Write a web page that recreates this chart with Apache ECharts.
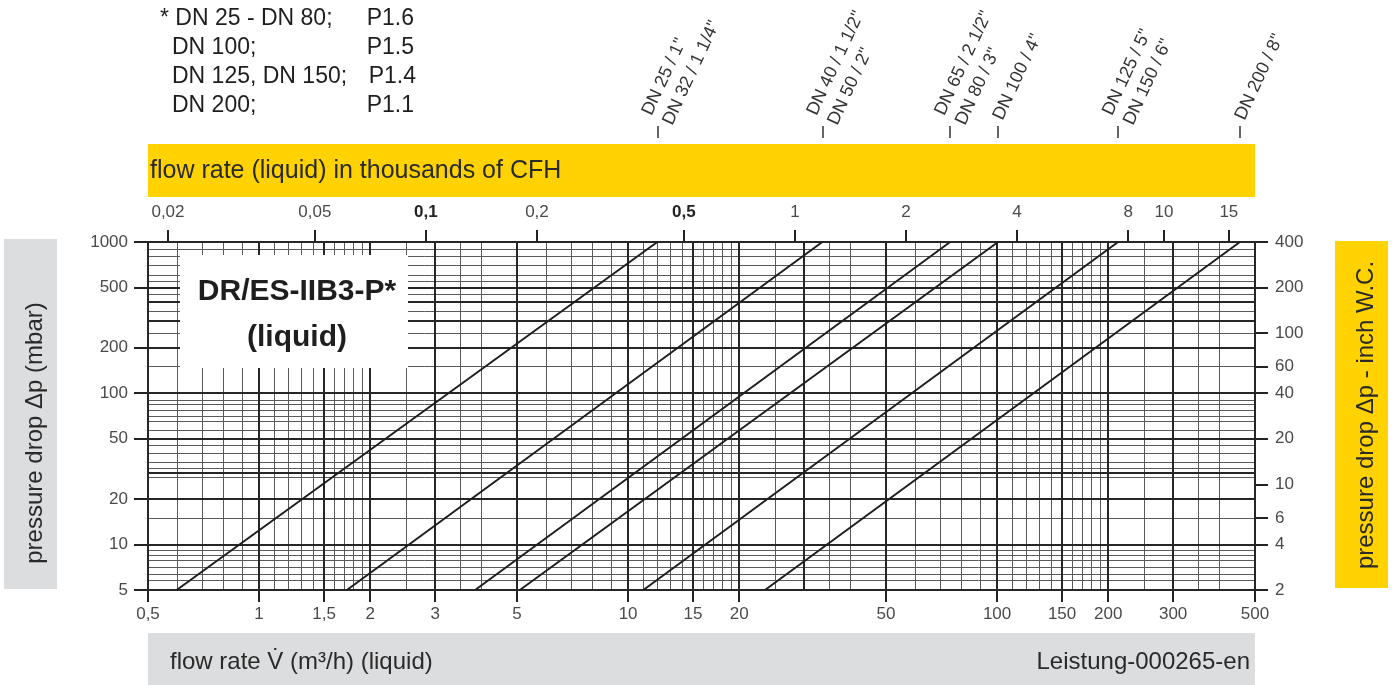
<!DOCTYPE html>
<html><head><meta charset="utf-8">
<script src="https://cdn.jsdelivr.net/npm/echarts@6/dist/echarts.min.js"></script>
<style>html,body{margin:0;padding:0;background:#fff}#c{width:1394px;height:685px}</style>
</head><body><div id="c"></div>
<script>
// ---- data ----
const sizeLabels = [
  ['DN 25 / 1"', 'DN 32 / 1 1/4"'],
  ['DN 40 / 1 1/2"', 'DN 50 / 2"'],
  ['DN 65 / 2 1/2"', 'DN 80 / 3"'],
  ['DN 100 / 4"'],
  ['DN 125 / 5"', 'DN 150 / 6"'],
  ['DN 200 / 8"']
];
const flowAt5 = [0.598, 1.73, 3.85, 5.09, 11.0, 23.5];       // m3/h at 5 mbar
const flowAt1000 = [12.0, 33.6, 74.6, 100.6, 212.7, 455];    // m3/h at 1000 mbar
const dpLow = 5, dpHigh = 1000;
const xTicks = [0.5, 1, 1.5, 2, 3, 5, 10, 15, 20, 50, 100, 150, 200, 300, 500];
const yTicks = [5, 10, 20, 50, 100, 200, 500, 1000];
const cfhTicks = [0.02, 0.05, 0.1, 0.2, 0.5, 1, 2, 4, 8, 10, 15];
const cfhBold = [0.1, 0.5];
const wcTicks = [2, 4, 6, 10, 20, 40, 60, 100, 200, 400];
const vGridMajor = [0.5, 1, 1.5, 2, 3, 5, 10, 15, 20, 30, 50, 100, 150, 200, 300, 500];
const vGridMinor = [0.6, 0.7, 0.8, 0.9, 1.1, 1.2, 1.3, 1.4, 1.6, 1.7, 1.8, 1.9, 2.5, 3.5, 4, 6, 7, 8, 9,
  11, 12, 13, 14, 16, 17, 18, 19, 25, 35, 40, 60, 70, 80, 90,
  110, 120, 130, 140, 160, 170, 180, 190, 250, 350, 400];
const hGridMajor = [5, 10, 20, 30, 50, 100, 200, 300, 400, 500, 1000];
const hGridMinor = [5.8, 6.4, 7.1, 7.9, 8.5, 9.2, 15, 28, 32, 35, 40, 45, 57, 65, 70, 77, 84, 90,
  150, 250, 350, 450, 550, 600, 700, 800, 900];
const M3H_TO_KCFH = 0.0353147;
const MBAR_TO_INWC = 0.4;

// ---- chart ----
const FONT = '"Liberation Sans", Arial, sans-serif';
const fmt = v => String(Number(Number(v).toPrecision(6))).replace('.', ',');
const near = (a, b) => Math.abs(Math.log10(a) - Math.log10(b)) < 0.005;

const chart = echarts.init(document.getElementById('c'), null, {renderer: 'canvas'});

const lineSeries = flowAt5.map((f, i) => ({
  type: 'line', name: sizeLabels[i].join(', '),
  xAxisIndex: 0, yAxisIndex: 0, z: 5,
  symbol: 'none', silent: true,
  lineStyle: {color: '#1e1e1e', width: 2},
  data: [[f, dpLow], [flowAt1000[i], dpHigh]]
}));

function gridSeries(xs, ys, color, width, z) {
  return {
    type: 'line', xAxisIndex: 0, yAxisIndex: 0, data: [], z: z, silent: true,
    markLine: {
      silent: true, symbol: ['none', 'none'], animation: false,
      label: {show: false},
      lineStyle: {color: color, width: width, type: 'solid'},
      emphasis: {disabled: true},
      data: xs.map(v => ({xAxis: v})).concat(ys.map(v => ({yAxis: v})))
    }
  };
}

const tickLabel = {fontFamily: FONT, fontSize: 17, color: '#4a4a4a'};

const option = {
  animation: false,
  backgroundColor: '#fff',
  grid: {left: 148, right: 139, top: 242, bottom: 95, containLabel: false},
  xAxis: [
    {
      type: 'log', logBase: 10, min: 0.5, max: 500, position: 'bottom',
      axisLine: {show: true, lineStyle: {color: '#222', width: 2}},
      axisTick: {show: true, customValues: xTicks, length: 12, lineStyle: {color: '#222', width: 2}},
      axisLabel: Object.assign({customValues: xTicks, margin: 16, formatter: v => fmt(v)}, tickLabel),
      splitLine: {show: false}, minorTick: {show: false}
    },
    {
      type: 'log', logBase: 10, min: 0.5 * M3H_TO_KCFH, max: 500 * M3H_TO_KCFH, position: 'top',
      axisLine: {show: false},
      axisTick: {show: true, customValues: cfhTicks, length: 12, lineStyle: {color: '#222', width: 2}},
      axisLabel: Object.assign({
        customValues: cfhTicks, margin: 21,
        formatter: v => cfhBold.some(b => near(b, v)) ? '{b|' + fmt(v) + '}' : fmt(v),
        rich: {b: {fontFamily: FONT, fontSize: 17, fontWeight: 'bold', color: '#222'}}
      }, tickLabel),
      splitLine: {show: false}
    },
    {
      type: 'log', logBase: 10, min: 0.5, max: 500, position: 'top', offset: 104,
      axisLine: {show: false},
      axisTick: {show: true, customValues: flowAt1000, length: 12, lineStyle: {color: '#333', width: 1.5}},
      axisLabel: {
        customValues: flowAt1000, rotate: -65, margin: 19,
        fontFamily: FONT, fontSize: 18, color: '#333', lineHeight: 23,
        formatter: v => {
          const i = flowAt1000.findIndex(f => near(f, v));
          return i >= 0 ? sizeLabels[i].join('\n') : '';
        }
      },
      splitLine: {show: false}
    }
  ],
  yAxis: [
    {
      type: 'log', logBase: 10, min: 5, max: 1000, position: 'left',
      axisLine: {show: true, lineStyle: {color: '#222', width: 2}},
      axisTick: {show: true, customValues: yTicks, length: 14, lineStyle: {color: '#222', width: 2}},
      axisLabel: Object.assign({customValues: yTicks, margin: 20, formatter: v => fmt(v)}, tickLabel),
      splitLine: {show: false}
    },
    {
      type: 'log', logBase: 10, min: dpLow * MBAR_TO_INWC, max: dpHigh * MBAR_TO_INWC, position: 'right',
      axisLine: {show: true, lineStyle: {color: '#222', width: 2}},
      axisTick: {show: true, customValues: wcTicks, length: 13, lineStyle: {color: '#222', width: 2}},
      axisLabel: Object.assign({customValues: wcTicks, margin: 20, formatter: v => fmt(v)}, tickLabel),
      splitLine: {show: false}
    }
  ],
  graphic: [
    // top band
    {type: 'rect', z: 100, shape: {x: 148, y: 144, width: 1107, height: 53}, style: {fill: '#FFD200'}},
    {type: 'text', z: 101, x: 150, y: 171, style: {text: 'flow rate (liquid) in thousands of CFH', font: '25px ' + FONT, fill: '#2a2a2a', verticalAlign: 'middle'}},
    // bottom band
    {type: 'rect', z: 100, shape: {x: 148, y: 633, width: 1107, height: 52}, style: {fill: '#DCDDDF'}},
    {type: 'text', z: 101, x: 170, y: 662, style: {text: 'flow rate V\u0307 (m³/h) (liquid)', font: '24px ' + FONT, fill: '#2a2a2a', verticalAlign: 'middle'}},
    {type: 'text', z: 101, x: 1250, y: 662, style: {text: 'Leistung-000265-en', font: '24px ' + FONT, fill: '#2a2a2a', align: 'right', verticalAlign: 'middle'}},
    // left band
    {type: 'rect', z: 100, shape: {x: 4, y: 239, width: 53, height: 350}, style: {fill: '#DCDDDF'}},
    {type: 'text', z: 101, x: 35, y: 433, rotation: Math.PI / 2, style: {text: 'pressure drop \u0394p (mbar)', font: '24px ' + FONT, fill: '#2a2a2a', align: 'center', verticalAlign: 'middle'}},
    // right band
    {type: 'rect', z: 100, shape: {x: 1335, y: 241, width: 53, height: 347}, style: {fill: '#FFD200'}},
    {type: 'text', z: 101, x: 1366, y: 415, rotation: Math.PI / 2, style: {text: 'pressure drop \u0394p - inch W.C.', font: '24px ' + FONT, fill: '#2a2a2a', align: 'center', verticalAlign: 'middle'}},
    // notes
    {type: 'text', z: 101, x: 160, y: 19, style: {text: '* DN 25 - DN 80;', font: '23px ' + FONT, fill: '#1e1e1e', verticalAlign: 'middle'}},
    {type: 'text', z: 101, x: 172, y: 48, style: {text: 'DN 100;', font: '23px ' + FONT, fill: '#1e1e1e', verticalAlign: 'middle'}},
    {type: 'text', z: 101, x: 172, y: 77, style: {text: 'DN 125, DN 150;', font: '23px ' + FONT, fill: '#1e1e1e', verticalAlign: 'middle'}},
    {type: 'text', z: 101, x: 172, y: 106, style: {text: 'DN 200;', font: '23px ' + FONT, fill: '#1e1e1e', verticalAlign: 'middle'}},
    {type: 'text', z: 101, x: 414, y: 19, style: {text: 'P1.6', font: '23px ' + FONT, fill: '#1e1e1e', align: 'right', verticalAlign: 'middle'}},
    {type: 'text', z: 101, x: 414, y: 48, style: {text: 'P1.5', font: '23px ' + FONT, fill: '#1e1e1e', align: 'right', verticalAlign: 'middle'}},
    {type: 'text', z: 101, x: 416, y: 77, style: {text: 'P1.4', font: '23px ' + FONT, fill: '#1e1e1e', align: 'right', verticalAlign: 'middle'}},
    {type: 'text', z: 101, x: 414, y: 106, style: {text: 'P1.1', font: '23px ' + FONT, fill: '#1e1e1e', align: 'right', verticalAlign: 'middle'}},
    // title box
    {type: 'rect', z: 100, shape: {x: 180, y: 255, width: 228, height: 113}, style: {fill: '#fff'}},
    {type: 'text', z: 101, x: 297, y: 292, style: {text: 'DR/ES-IIB3-P*', font: 'bold 30px ' + FONT, fill: '#1e1e1e', align: 'center', verticalAlign: 'middle'}},
    {type: 'text', z: 101, x: 297, y: 338, style: {text: '(liquid)', font: 'bold 30px ' + FONT, fill: '#1e1e1e', align: 'center', verticalAlign: 'middle'}}
  ],
  series: [
    gridSeries(vGridMinor, hGridMinor, '#5a5a5a', 1, 1),
    gridSeries(vGridMajor, hGridMajor, '#262626', 2, 2)
  ].concat(lineSeries)
};
chart.setOption(option);
</script>
</body></html>
